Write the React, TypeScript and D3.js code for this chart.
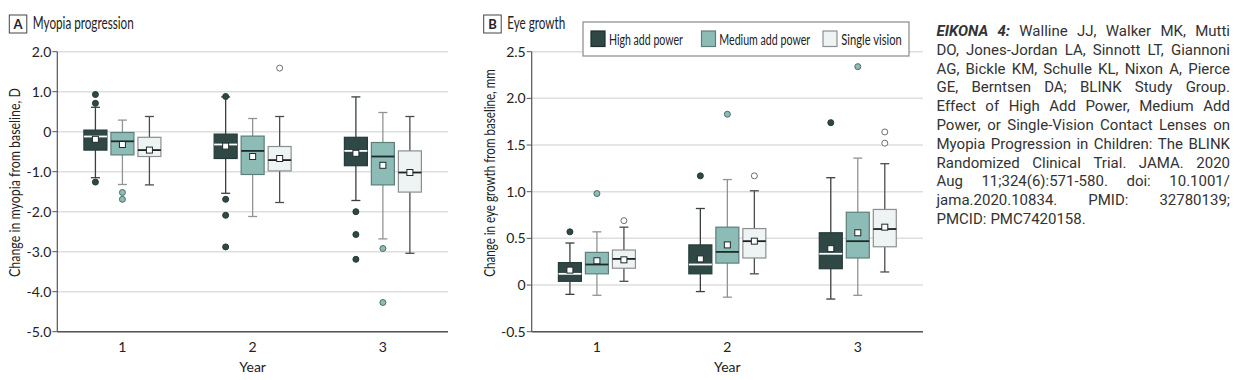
import React, { useLayoutEffect, useRef } from "react";
import * as d3 from "d3";

const years = ["1", "2", "3"];
const groups = ["High add power", "Medium add power", "Single vision"];

const myopiaTicks = [2, 1, 0, -1, -2, -3, -4, -5];
const myopiaTickLabels = ["2.0", "1.0", "0", "-1.0", "-2.0", "-3.0", "-4.0", "-5.0"];
const eyeTicks = [2.5, 2, 1.5, 1, 0.5, 0, -0.5];
const eyeTickLabels = ["2.5", "2.0", "1.5", "1.0", "0.5", "0", "-0.5"];

type Box = { lo: number; q1: number; med: number; q3: number; hi: number; mean: number; out: number[] };

const myopiaHigh: Box[] = [
  { lo: -1.15, q1: -0.46, med: -0.12, q3: 0.04, hi: 0.61, mean: -0.19, out: [0.93, 0.71, -1.26] },
  { lo: -1.54, q1: -0.67, med: -0.32, q3: -0.06, hi: 0.87, mean: -0.36, out: [0.88, -1.69, -2.09, -2.88] },
  { lo: -1.72, q1: -0.85, med: -0.48, q3: -0.14, hi: 0.87, mean: -0.54, out: [-2.0, -2.57, -3.19] },
];
const myopiaMedium: Box[] = [
  { lo: -1.32, q1: -0.58, med: -0.24, q3: -0.02, hi: 0.29, mean: -0.32, out: [-1.52, -1.69] },
  { lo: -2.12, q1: -1.07, med: -0.48, q3: -0.11, hi: 0.33, mean: -0.62, out: [] },
  { lo: -2.68, q1: -1.33, med: -0.62, q3: -0.27, hi: 0.48, mean: -0.84, out: [-2.92, -4.27] },
];
const myopiaSingle: Box[] = [
  { lo: -1.33, q1: -0.62, med: -0.46, q3: -0.14, hi: 0.38, mean: -0.46, out: [] },
  { lo: -1.77, q1: -0.98, med: -0.71, q3: -0.37, hi: 0.38, mean: -0.67, out: [1.59] },
  { lo: -3.04, q1: -1.51, med: -1.02, q3: -0.48, hi: 0.38, mean: -1.02, out: [] },
];

const eyeHigh: Box[] = [
  { lo: -0.1, q1: 0.04, med: 0.12, q3: 0.24, hi: 0.45, mean: 0.16, out: [0.57] },
  { lo: -0.07, q1: 0.12, med: 0.22, q3: 0.43, hi: 0.82, mean: 0.28, out: [1.17] },
  { lo: -0.15, q1: 0.175, med: 0.335, q3: 0.56, hi: 1.15, mean: 0.39, out: [1.74] },
];
const eyeMedium: Box[] = [
  { lo: -0.11, q1: 0.12, med: 0.22, q3: 0.35, hi: 0.57, mean: 0.26, out: [0.98] },
  { lo: -0.13, q1: 0.235, med: 0.355, q3: 0.62, hi: 1.13, mean: 0.43, out: [1.83] },
  { lo: -0.11, q1: 0.29, med: 0.47, q3: 0.78, hi: 1.36, mean: 0.56, out: [2.34] },
];
const eyeSingle: Box[] = [
  { lo: 0.04, q1: 0.18, med: 0.28, q3: 0.375, hi: 0.62, mean: 0.27, out: [0.69] },
  { lo: 0.12, q1: 0.29, med: 0.47, q3: 0.605, hi: 1.01, mean: 0.47, out: [1.17] },
  { lo: 0.14, q1: 0.41, med: 0.6, q3: 0.81, hi: 1.3, mean: 0.62, out: [1.64, 1.52] },
];

const citationLines = [
  "Walline JJ, Walker MK, Mutti",
  "DO, Jones-Jordan LA, Sinnott LT, Giannoni",
  "AG, Bickle KM, Schulle KL, Nixon A, Pierce",
  "GE, Berntsen DA; BLINK Study Group.",
  "Effect of High Add Power, Medium Add",
  "Power, or Single-Vision Contact Lenses on",
  "Myopia Progression in Children: The BLINK",
  "Randomized Clinical Trial. JAMA. 2020",
  "Aug 11;324(6):571-580. doi: 10.1001/",
  "jama.2020.10834. PMID: 32780139;",
  "PMCID: PMC7420158.",
];
const citationLead = "EIKONA 4:";

const FONT = "Lato, 'Noto Sans', sans-serif";

const styles = [
  { fill: "#2f4846", stroke: "#243a38", whisker: "#3a3f3f", median: "#ffffff", outFill: "#2f4846", outStroke: "#243a38" },
  { fill: "#8dbcb7", stroke: "#5d7f7b", whisker: "#8f9594", median: "#1d2b2a", outFill: "#8dbcb7", outStroke: "#4f6b68" },
  { fill: "#eef3f4", stroke: "#8c8f90", whisker: "#4a4d4e", median: "#1d2121", outFill: "#ffffff", outStroke: "#6c7070" },
];

// Text condensed horizontally (via transform) to a target width, like the narrow original typeface.
function CondensedText({
  x,
  y,
  len,
  rotate = 0,
  anchor = "start",
  fontSize,
  children,
}: {
  x: number;
  y: number;
  len: number;
  rotate?: number;
  anchor?: "start" | "middle" | "end";
  fontSize: number;
  children: string;
}) {
  const ref = useRef<SVGTextElement>(null);
  useLayoutEffect(() => {
    const el = ref.current;
    if (!el) return;
    const w = el.getComputedTextLength();
    const s = w > 0 ? len / w : 1;
    el.setAttribute("transform", `translate(${x},${y}) rotate(${rotate}) scale(${s},1)`);
  }, [x, y, len, rotate]);
  return (
    <text
      ref={ref}
      transform={`translate(${x},${y}) rotate(${rotate})`}
      textAnchor={anchor}
      fontFamily={FONT}
      fontSize={fontSize}
      fill="#222"
    >
      {children}
    </text>
  );
}

type PanelProps = {
  x0: number;
  x1: number;
  letter: string;
  title: string;
  titleLen: number;
  yLabel: string;
  yLabelLen: number;
  yLabelCenter: number;
  domain: [number, number];
  ticks: number[];
  tickLabels: string[];
  series: Box[][];
};

const TOP = 51.7;
const BOTTOM = 331.7;

function Panel({ x0, x1, letter, title, titleLen, yLabel, yLabelLen, yLabelCenter, domain, ticks, tickLabels, series }: PanelProps) {
  const y = d3.scaleLinear().domain(domain).range([BOTTOM, TOP]);
  const xb = d3.scaleBand().domain(years).range([x0, x1]);
  const xg = d3.scalePoint().domain(groups).range([-27, 27]);
  const bw = 23;
  const cap = 9;
  const letterX = x0 - 48;
  return (
    <g>
      <rect x={letterX} y={15} width={17.5} height={18} fill="#fff" stroke="#444" strokeWidth={1} />
      <text x={letterX + 8.75} y={28.5} textAnchor="middle" fontFamily={FONT} fontWeight="bold" fontSize={13} fill="#222">
        {letter}
      </text>
      <CondensedText x={letterX + 23.5} y={29} len={titleLen} fontSize={16.5}>
        {title}
      </CondensedText>
      {ticks.map((t) => (
        <line key={"g" + t} x1={x0} x2={x1} y1={y(t)} y2={y(t)} stroke="#dedede" strokeWidth={1.5} />
      ))}
      {ticks.map((t, i) => (
        <g key={"t" + t}>
          <line x1={x0 - 5} x2={x0} y1={y(t)} y2={y(t)} stroke="#555" strokeWidth={1} />
          <text x={x0 - 6} y={y(t) + 4.8} textAnchor="end" fontFamily={FONT} fontSize={14} fill="#222">
            {tickLabels[i]}
          </text>
        </g>
      ))}
      <line x1={x0} x2={x0} y1={TOP} y2={BOTTOM} stroke="#555" strokeWidth={1.2} />
      <line x1={x0} x2={x1} y1={BOTTOM} y2={BOTTOM} stroke="#555" strokeWidth={1.5} />
      {years.map((yr) => (
        <text key={"x" + yr} x={(xb(yr) as number) + xb.bandwidth() / 2} y={352} textAnchor="middle" fontFamily={FONT} fontSize={14} fill="#222">
          {yr}
        </text>
      ))}
      <text x={(x0 + x1) / 2} y={372} textAnchor="middle" fontFamily={FONT} fontSize={14} fill="#222">
        Year
      </text>
      <CondensedText x={x0 - 37} y={yLabelCenter} len={yLabelLen} rotate={-90} anchor="middle" fontSize={15.5}>
        {yLabel}
      </CondensedText>
      {series.map((data, gi) => {
        const st = styles[gi];
        return data.map((b, yi) => {
          const cx = (xb(years[yi]) as number) + xb.bandwidth() / 2 + (xg(groups[gi]) as number);
          return (
            <g key={`b${gi}-${yi}`}>
              <line x1={cx} x2={cx} y1={y(b.hi)} y2={y(b.q3)} stroke={st.whisker} strokeWidth={1.3} />
              <line x1={cx} x2={cx} y1={y(b.q1)} y2={y(b.lo)} stroke={st.whisker} strokeWidth={1.3} />
              <line x1={cx - cap / 2} x2={cx + cap / 2} y1={y(b.hi)} y2={y(b.hi)} stroke={st.whisker} strokeWidth={1.3} />
              <line x1={cx - cap / 2} x2={cx + cap / 2} y1={y(b.lo)} y2={y(b.lo)} stroke={st.whisker} strokeWidth={1.3} />
              <rect x={cx - bw / 2} y={y(b.q3)} width={bw} height={y(b.q1) - y(b.q3)} fill={st.fill} stroke={st.stroke} strokeWidth={1.2} />
              <line x1={cx - bw / 2} x2={cx + bw / 2} y1={y(b.med)} y2={y(b.med)} stroke={st.median} strokeWidth={1.8} />
              <rect x={cx - 3} y={y(b.mean) - 3} width={6} height={6} fill="#fff" stroke="#1f2a29" strokeWidth={1} />
              {b.out.map((o, oi) => (
                <circle key={oi} cx={cx} cy={y(o)} r={3} fill={st.outFill} stroke={st.outStroke} strokeWidth={1} />
              ))}
            </g>
          );
        });
      })}
    </g>
  );
}

const legendItems = [
  { sx: 591, tx: 609, len: 74 },
  { sx: 701.5, tx: 719.3, len: 91 },
  { sx: 823, tx: 841.3, len: 60.5 },
];

function Legend() {
  return (
    <g>
      <rect x={583} y={22} width={326} height={34} fill="#fff" stroke="#8a8a8a" strokeWidth={1.2} />
      {groups.map((g, i) => (
        <g key={g}>
          <rect x={legendItems[i].sx} y={31} width={14} height={15.5} fill={styles[i].fill} stroke={i === 0 ? "#1f2e2d" : styles[i].stroke} strokeWidth={1.2} />
          <CondensedText x={legendItems[i].tx} y={44.5} len={legendItems[i].len} fontSize={16}>
            {g}
          </CondensedText>
        </g>
      ))}
    </g>
  );
}

function Citation() {
  const ref = useRef<SVGGElement>(null);
  useLayoutEffect(() => {
    const g = d3.select(ref.current);
    g.selectAll("*").remove();
    const left = 936.5;
    const right = 1230;
    const width = right - left;
    const base = 36;
    const lh = 18.8;
    citationLines.forEach((line, li) => {
      const words = line.split(" ").filter((w) => w.length > 0);
      const tokens: { t: string; bold: boolean }[] = [];
      if (li === 0) {
        citationLead.split(" ").forEach((w) => tokens.push({ t: w, bold: true }));
      }
      words.forEach((w) => tokens.push({ t: w, bold: false }));
      const nodes = tokens.map((tok) =>
        g
          .append("text")
          .attr("y", base + li * lh)
          .attr("font-family", "Roboto, 'Noto Sans', sans-serif")
          .attr("font-size", 15)
          .attr("fill", "#333")
          .attr("font-weight", tok.bold ? "bold" : "normal")
          .attr("font-style", tok.bold ? "italic" : "normal")
          .text(tok.t)
      );
      const widths = nodes.map((n) => (n.node() as SVGTextElement).getComputedTextLength());
      const total = widths.reduce((a, b) => a + b, 0);
      const last = li === citationLines.length - 1;
      const gap = last ? 4 : (width - total) / Math.max(1, nodes.length - 1);
      let x = left;
      nodes.forEach((n, i) => {
        n.attr("x", x);
        x += widths[i] + gap;
      });
    });
  }, []);
  return <g ref={ref} />;
}

export default function App() {
  return (
    <svg width={1250} height={380} style={{ position: "absolute", left: 0, top: 0, background: "#fff" }}>
      <rect width={1250} height={380} fill="#fff" />
      <Panel
        x0={57.3}
        x1={448}
        letter="A"
        title="Myopia progression"
        titleLen={101}
        yLabel="Change in myopia from baseline, D"
        yLabelLen={189}
        yLabelCenter={182.5}
        domain={[-5, 2]}
        ticks={myopiaTicks}
        tickLabels={myopiaTickLabels}
        series={[myopiaHigh, myopiaMedium, myopiaSingle]}
      />
      <Panel
        x0={531.7}
        x1={923}
        letter="B"
        title="Eye growth"
        titleLen={58}
        yLabel="Change in eye growth from baseline, mm"
        yLabelLen={208}
        yLabelCenter={173}
        domain={[-0.5, 2.5]}
        ticks={eyeTicks}
        tickLabels={eyeTickLabels}
        series={[eyeHigh, eyeMedium, eyeSingle]}
      />
      <Legend />
      <Citation />
    </svg>
  );
}
